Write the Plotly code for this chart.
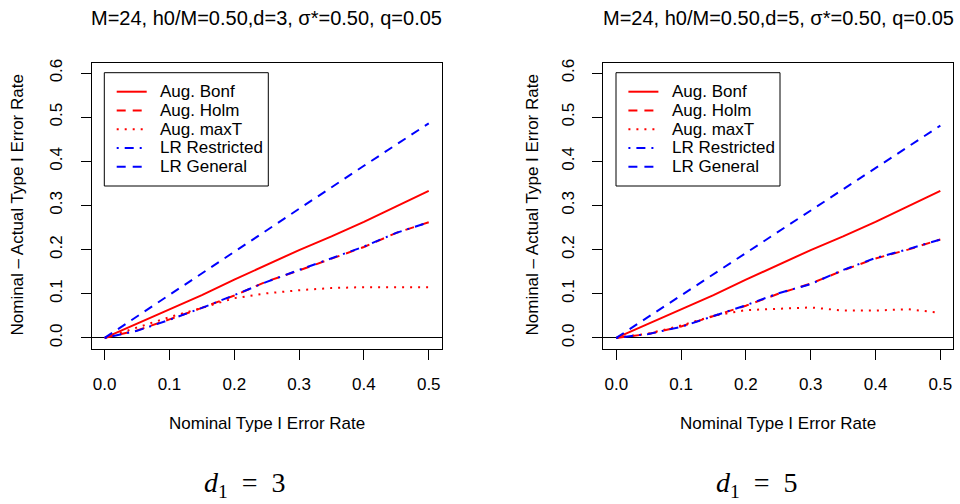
import plotly.graph_objects as go

# ---------------- data ----------------
x_nom = [0.0, 0.05, 0.10, 0.15, 0.20, 0.25, 0.30, 0.35, 0.40, 0.45, 0.50]

# panel 1 (d = 3)
bonf_d3 = [0.0, 0.032, 0.065, 0.097, 0.132, 0.166, 0.199, 0.230, 0.263, 0.298, 0.333]
holm_d3 = [0.0, 0.017, 0.042, 0.068, 0.096, 0.128, 0.153, 0.180, 0.206, 0.238, 0.262]
maxt_d3 = [0.0, 0.024, 0.047, 0.068, 0.090, 0.101, 0.108, 0.113, 0.115, 0.115, 0.115]
lrr_d3  = [0.0, 0.016, 0.041, 0.068, 0.097, 0.127, 0.154, 0.181, 0.207, 0.238, 0.262]
lrg_d3  = [0.0, 0.049, 0.098, 0.146, 0.195, 0.244, 0.292, 0.341, 0.390, 0.438, 0.486]

# panel 2 (d = 5)
bonf_d5 = [0.0, 0.032, 0.065, 0.097, 0.132, 0.166, 0.199, 0.230, 0.263, 0.298, 0.333]
holm_d5 = [0.0, 0.009, 0.026, 0.050, 0.073, 0.100, 0.123, 0.153, 0.180, 0.200, 0.223]
maxt_d5 = [0.0, 0.010, 0.028, 0.050, 0.063, 0.066, 0.069, 0.062, 0.062, 0.065, 0.057]
lrr_d5  = [0.0, 0.009, 0.025, 0.050, 0.074, 0.101, 0.122, 0.154, 0.181, 0.201, 0.223]
lrg_d5  = [0.0, 0.048, 0.097, 0.145, 0.193, 0.242, 0.290, 0.338, 0.386, 0.434, 0.481]

series_names = ["Aug. Bonf", "Aug. Holm", "Aug. maxT", "LR Restricted", "LR General"]
x_ticks = [0.0, 0.1, 0.2, 0.3, 0.4, 0.5]
y_ticks = [0.0, 0.1, 0.2, 0.3, 0.4, 0.5, 0.6]
titles = ["M=24, h0/M=0.50,d=3, \u03c3*=0.50, q=0.05",
          "M=24, h0/M=0.50,d=5, \u03c3*=0.50, q=0.05"]
sub_labels = ["<i>d</i><sub>1</sub>\u2002=\u20023", "<i>d</i><sub>1</sub>\u2002=\u20025"]
x_title = "Nominal Type I Error Rate"
y_title = "Nominal \u2013 Actual Type I Error Rate"

# ---------------- styling ----------------
RED = "#FF0000"
BLUE = "#0000FF"
styles = [
    dict(color=RED, dash="solid"),
    dict(color=RED, dash="9px,7px"),
    dict(color=RED, dash="2px,6px"),
    dict(color=BLUE, dash="2px,6px,9px,6px"),
    dict(color=BLUE, dash="9px,7px"),
]
FONT = "Liberation Sans, Arial, sans-serif"

fig = go.Figure()

panels = [
    (["x", "y"], [bonf_d3, holm_d3, maxt_d3, lrr_d3, lrg_d3]),
    (["x2", "y2"], [bonf_d5, holm_d5, maxt_d5, lrr_d5, lrg_d5]),
]
for (ax, ys) in panels:
    for name, yv, st in zip(series_names, ys, styles):
        fig.add_trace(go.Scatter(
            x=x_nom, y=yv, mode="lines", name=name,
            line=dict(color=st["color"], dash=st["dash"], width=2),
            xaxis=ax[0], yaxis=ax[1], showlegend=False,
        ))

px_w, px_h = 960, 504
def fx(p):
    return p / px_w
def fy(p):
    return (px_h - p) / px_h

xdoms = [[fx(91.7), fx(441.7)], [fx(603.3), fx(953.3)]]
ydom = [fy(348.5), fy(62.5)]

axis_common = dict(
    showline=True, linecolor="black", linewidth=1, mirror=True,
    ticks="outside", ticklen=10, tickwidth=1, tickcolor="black",
    showgrid=False, zeroline=False,
    tickfont=dict(family=FONT, size=17, color="black"),
    automargin=False,
)

layout = dict(
    width=px_w, height=px_h,
    margin=dict(l=0, r=0, t=0, b=0),
    paper_bgcolor="white", plot_bgcolor="white",
    font=dict(family=FONT, size=17, color="black"),
    showlegend=False,
)
for i, suf in enumerate(["", "2"]):
    layout["xaxis" + suf] = dict(
        axis_common, domain=xdoms[i], range=[-0.02, 0.52],
        tickvals=x_ticks, ticktext=["%.1f" % v for v in x_ticks],
        anchor="y" + suf, ticklabelstandoff=10,
    )
    layout["yaxis" + suf] = dict(
        axis_common, domain=ydom, range=[-0.024, 0.624],
        tickvals=y_ticks, ticktext=["%.1f" % v for v in y_ticks],
        tickangle=-90, anchor="x" + suf, ticklabelstandoff=12,
        zeroline=True, zerolinecolor="black", zerolinewidth=1,
    )

annotations = []
shapes = []
centers = [266.7, 778.3]
legend_left = [104.3, 616.0]
row_y = [91.7, 110.5, 129.3, 148.0, 166.7]
for i in range(2):
    annotations.append(dict(
        text=titles[i], x=fx(centers[i]), y=fy(18), xref="paper", yref="paper",
        showarrow=False, xanchor="center", yanchor="middle",
        font=dict(family=FONT, size=20, color="black")))
    annotations.append(dict(
        text=x_title, x=fx(centers[i]), y=fy(423), xref="paper", yref="paper",
        showarrow=False, xanchor="center", yanchor="middle",
        font=dict(family=FONT, size=17, color="black")))
    annotations.append(dict(
        text=y_title, x=fx([17, 532][i]), y=fy(205.5), xref="paper", yref="paper",
        showarrow=False, xanchor="center", yanchor="middle", textangle=-90,
        font=dict(family=FONT, size=17, color="black")))
    annotations.append(dict(
        text=sub_labels[i], x=fx([244.7, 757][i]), y=fy(484), xref="paper", yref="paper",
        showarrow=False, xanchor="center", yanchor="middle",
        font=dict(family="Liberation Serif, Times New Roman, serif", size=28, color="black")))

    # legend box
    L = legend_left[i]
    shapes.append(dict(
        type="rect", xref="paper", yref="paper",
        x0=fx(L), x1=fx(L + 164), y0=fy(72.7), y1=fy(186),
        line=dict(color="black", width=1), fillcolor="white", layer="above"))
    for name, st, ry in zip(series_names, styles, row_y):
        shapes.append(dict(
            type="line", xref="paper", yref="paper",
            x0=fx(L + 12.4), x1=fx(L + 42.4), y0=fy(ry), y1=fy(ry),
            line=dict(color=st["color"], dash=st["dash"], width=2), layer="above"))
        annotations.append(dict(
            text=name, x=fx(L + 53.5), y=fy(ry), xref="paper", yref="paper",
            showarrow=False, xanchor="left", yanchor="middle",
            font=dict(family=FONT, size=17, color="black")))

layout["annotations"] = annotations
layout["shapes"] = shapes

fig.update_layout(**layout)
fig.write_html("out.html")
